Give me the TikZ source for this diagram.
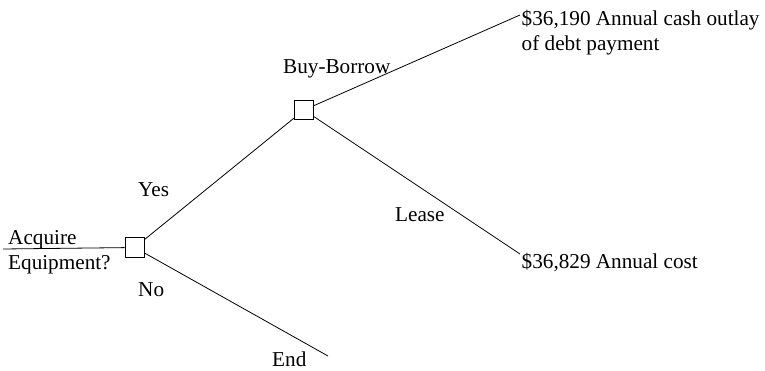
\documentclass[tikz,border=0pt]{standalone}
\usepackage{fontspec}
\setmainfont{Liberation Serif}
\begin{document}
\begin{tikzpicture}[x=1pt,y=-1pt,
  decision/.style={draw,line width=0.8pt,minimum size=19.5pt,inner sep=0pt,fill=white},
  lbl/.style={anchor=base west,inner sep=0pt,font=\fontsize{21.2}{25}\selectfont},
  branch/.style={line width=0.8pt}]
\useasboundingbox (0,0) rectangle (765,371);
\node[decision] (d1) at (134.7,247.5) {};
\node[decision] (d2) at (304,110) {};
\coordinate (start) at (3,249);
\coordinate (top) at (520,15);
\coordinate (low) at (520,254);
\coordinate (endp) at (328,356);
\draw[branch] (start) -- (d1);
\draw[branch] (d1) -- (d2);
\draw[branch] (d1) -- (endp);
\draw[branch] (d2) -- (top);
\draw[branch] (d2) -- (low);
\node[lbl] (acq) at (8,245) {Acquire};
\node[lbl] (equ) at (8,269.5) {Equipment?};
\node[lbl] (yes) at (138,197) {Yes};
\node[lbl] (no) at (138,296) {No};
\node[lbl] (bb) at (283,74) {Buy-Borrow};
\node[lbl] (lease) at (395,222) {Lease};
\node[lbl] (end) at (272,366.5) {End};
\node[lbl] (c1) at (521.5,25.5) {\$36,190 Annual cash outlay};
\node[lbl] (c2) at (521.5,50.5) {of debt payment};
\node[lbl] (c3) at (521.5,268.5) {\$36,829 Annual cost};
\end{tikzpicture}
\end{document}
